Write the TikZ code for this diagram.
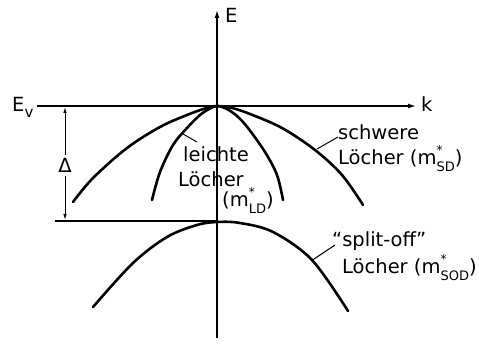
\documentclass[tikz,border=0pt]{standalone}
\usepackage{fontspec}
\setmainfont{DejaVu Sans}
\usetikzlibrary{arrows.meta}
\newcommand{\effm}[1]{m\rlap{\raisebox{0.55em}{\fontsize{12}{12}\selectfont *}}\raisebox{-0.34em}{\fontsize{13}{13}\selectfont #1}}
\begin{document}
\begin{tikzpicture}[x=1pt,y=-1pt,
  axis/.style={line width=1.4pt, -{Latex[length=8pt,width=5pt]}},
  darrow/.style={line width=1pt, -{Latex[length=6pt,width=3.5pt]}},
  band/.style={line width=2.6pt, line cap=round, line join=round},
  lead/.style={line width=1pt},
  lbl/.style={font=\fontsize{19.5}{22}\selectfont, inner sep=0pt, anchor=base west}]
\useasboundingbox (0,0) rectangle (479,352);
% axes
\coordinate (O) at (217,106);
\coordinate (kend) at (416,106);
\coordinate (axl) at (37,106);
\coordinate (Ebot) at (217,338);
\coordinate (Etop) at (217,10);
\draw[axis] (axl) -- (kend);
\draw[axis] (Ebot) -- (Etop);
\node[lbl] (E) at (225,23) {E};
\node[lbl] (k) at (421,112) {k};
\node[lbl] (Ev) at (12,112) {E\raisebox{-0.28em}{\fontsize{15}{15}\selectfont v}};
% split-off level line
\coordinate (sol) at (55,221);
\coordinate (sotop) at (217,221);
\draw[line width=1.4pt] (sol) -- (sotop);
% Delta
\node[lbl, anchor=center] (D) at (65,165) {Δ};
\coordinate (Dtop) at (65,107);
\coordinate (Dbot) at (65,220);
\draw[darrow] (D.north) ++(0,-3) -- (Dtop);
\draw[darrow] (D.south) ++(0,4) -- (Dbot);
% bands
\draw[band] plot[smooth, tension=0.55] coordinates {(73,202) (93,178) (127,148) (160,127) (187,115) (205,108.5) (217,106) (232,108) (250,114) (282,128) (315,150) (342,175) (363,205)};
\draw[band] plot[smooth, tension=0.55] coordinates {(152,200) (160,172) (173,145) (187,128) (200,115) (210,108.5) (217,106) (226,108.5) (237,116) (248,128) (265,152) (277,175) (283,200)};
\draw[band] plot[smooth, tension=0.55] coordinates {(93,307) (133,263) (167,237) (197,225) (217,222) (240,223) (273,232) (312,260) (348,311)};
% labels
\node[lbl] (lh1) at (183,162) {leichte};
\node[lbl] (lh2) at (178,187) {Löcher};
\node[lbl] (lh3) at (222,207) {(\effm{LD})};
\coordinate (lhc) at (183,134);
\draw[lead] (lhc) -- (197,142);
\node[lbl] (hh1) at (338,140) {schwere};
\node[lbl] (hh2) at (338,165) {Löcher (\effm{SD})};
\coordinate (hhc) at (317,149);
\draw[lead] (hhc) -- (hh1.west |- 0,137);
\node[lbl] (so1) at (332,247) {``split-off''};
\node[lbl] (so2) at (342,274) {Löcher (\effm{SOD})};
\coordinate (soc) at (311,261);
\draw[lead] (soc) -- (335,245);
\end{tikzpicture}
\end{document}
